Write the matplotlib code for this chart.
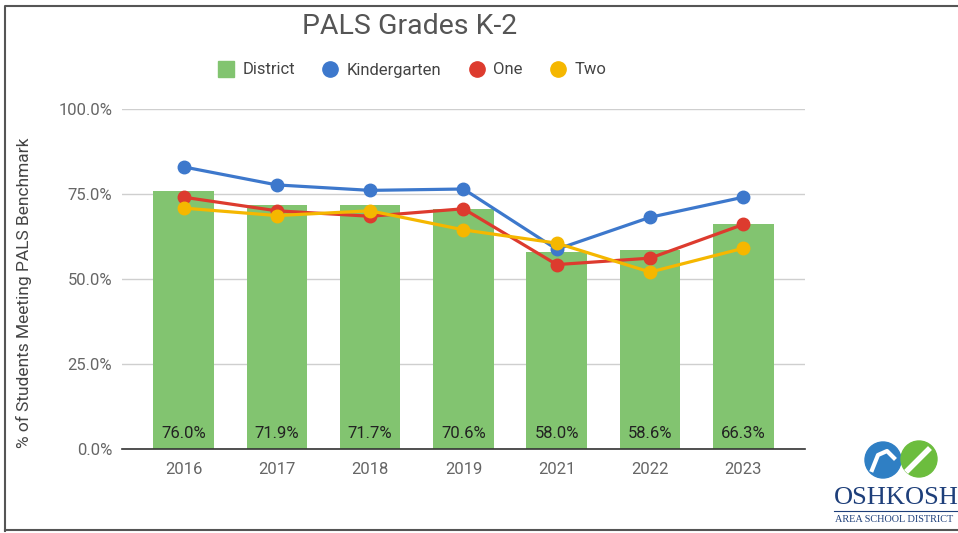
import matplotlib.pyplot as plt
from matplotlib.lines import Line2D
from matplotlib.patches import Circle

plt.rcParams['font.family'] = ['Roboto', 'DejaVu Sans']

years = ['2016', '2017', '2018', '2019', '2021', '2022', '2023']
district = [76.0, 71.9, 71.7, 70.6, 58.0, 58.6, 66.3]
kindergarten = [83.0, 77.7, 76.1, 76.5, 58.8, 68.2, 74.1]
grade_one = [74.1, 70.1, 68.5, 70.7, 54.3, 56.2, 66.1]
grade_two = [70.9, 68.7, 70.1, 64.5, 60.6, 52.1, 59.1]

GREEN = '#82c470'
BLUE = '#3d78cc'
RED = '#dd3b2e'
YELLOW = '#f5b700'

fig = plt.figure(figsize=(9.58, 5.33), dpi=100)
ax = fig.add_axes([0.1273, 0.1567, 0.7130, 0.6388])

x = list(range(len(years)))
ax.bar(x, district, width=0.65, color=GREEN, zorder=2)
for xi, v in zip(x, district):
    ax.text(xi, 4.8, f'{v:.1f}%', ha='center', va='center',
            fontsize=12, color='#222222', zorder=5)

series = [(kindergarten, BLUE), (grade_one, RED), (grade_two, YELLOW)]
for vals, col in series:
    ax.plot(x, vals, color=col, lw=2.3, marker='o', ms=9,
            zorder=4, solid_capstyle='round')

ax.set_xlim(-0.66, 6.66)
ax.set_ylim(0, 100)
ax.set_yticks([0, 25, 50, 75, 100])
ax.set_yticklabels(['0.0%', '25.0%', '50.0%', '75.0%', '100.0%'])
ax.set_xticks(x)
ax.set_xticklabels(years)
ax.tick_params(axis='both', length=0, labelsize=12, colors='#666666')
ax.tick_params(axis='x', pad=9)
ax.tick_params(axis='y', pad=7)
ax.grid(axis='y', color='#cfcfcf', lw=1, zorder=0)
ax.set_axisbelow(True)
for s in ['top', 'right', 'left']:
    ax.spines[s].set_visible(False)
ax.spines['bottom'].set_color('#333333')
ax.spines['bottom'].set_linewidth(1.2)
ax.spines['bottom'].set_zorder(3)

ax.set_ylabel('% of Students Meeting PALS Benchmark', fontsize=12.5,
              color='#444444')
ax.yaxis.set_label_coords(-0.132, 0.46)

fig.text(410 / 958, 1 - 26 / 533, 'PALS Grades K-2', ha='center',
         va='center', fontsize=20.5, color='#555555')

handles = [
    Line2D([], [], ls='none', marker='s', ms=11, color=GREEN),
    Line2D([], [], ls='none', marker='o', ms=11, color=BLUE),
    Line2D([], [], ls='none', marker='o', ms=11, color=RED),
    Line2D([], [], ls='none', marker='o', ms=11, color=YELLOW),
]
fig.legend(handles, ['District', 'Kindergarten', 'One', 'Two'],
           loc='center', bbox_to_anchor=(412 / 958, 1 - 70 / 533), ncol=4,
           frameon=False, fontsize=12, labelcolor='#444444',
           handlelength=1.0, handletextpad=0.5, columnspacing=1.6)

# frame and logo drawn in pixel coordinates
ov = fig.add_axes([0, 0, 1, 1], zorder=10)
ov.set_xlim(0, 958)
ov.set_ylim(533, 0)
ov.axis('off')
ov.patch.set_alpha(0)
ov.plot([5, 5, 958], [531, 6, 6], color='#555555', lw=1.5)
ov.plot([5, 958], [530, 530], color='#555555', lw=1.5)

ov.add_patch(Circle((883, 460), 18, color='#2f7fc4'))
ov.add_patch(Circle((919, 459), 18, color='#6cbd3e'))
ov.plot([872, 878, 887, 894], [470, 455, 451, 458], color='white', lw=3)
ov.plot([908, 928], [470, 450], color='white', lw=4)
ov.text(834, 498, 'OSHKOSH', fontsize=19, family='Liberation Serif',
        color='#1e3f7a', va='center', ha='left')
ov.plot([834, 958], [511, 511], color='#1e3f7a', lw=0.8)
ov.text(835, 519, 'AREA SCHOOL DISTRICT', fontsize=7.4,
        family='Liberation Serif', color='#1e3f7a', va='center', ha='left')

fig.savefig('out.png', dpi=100)
